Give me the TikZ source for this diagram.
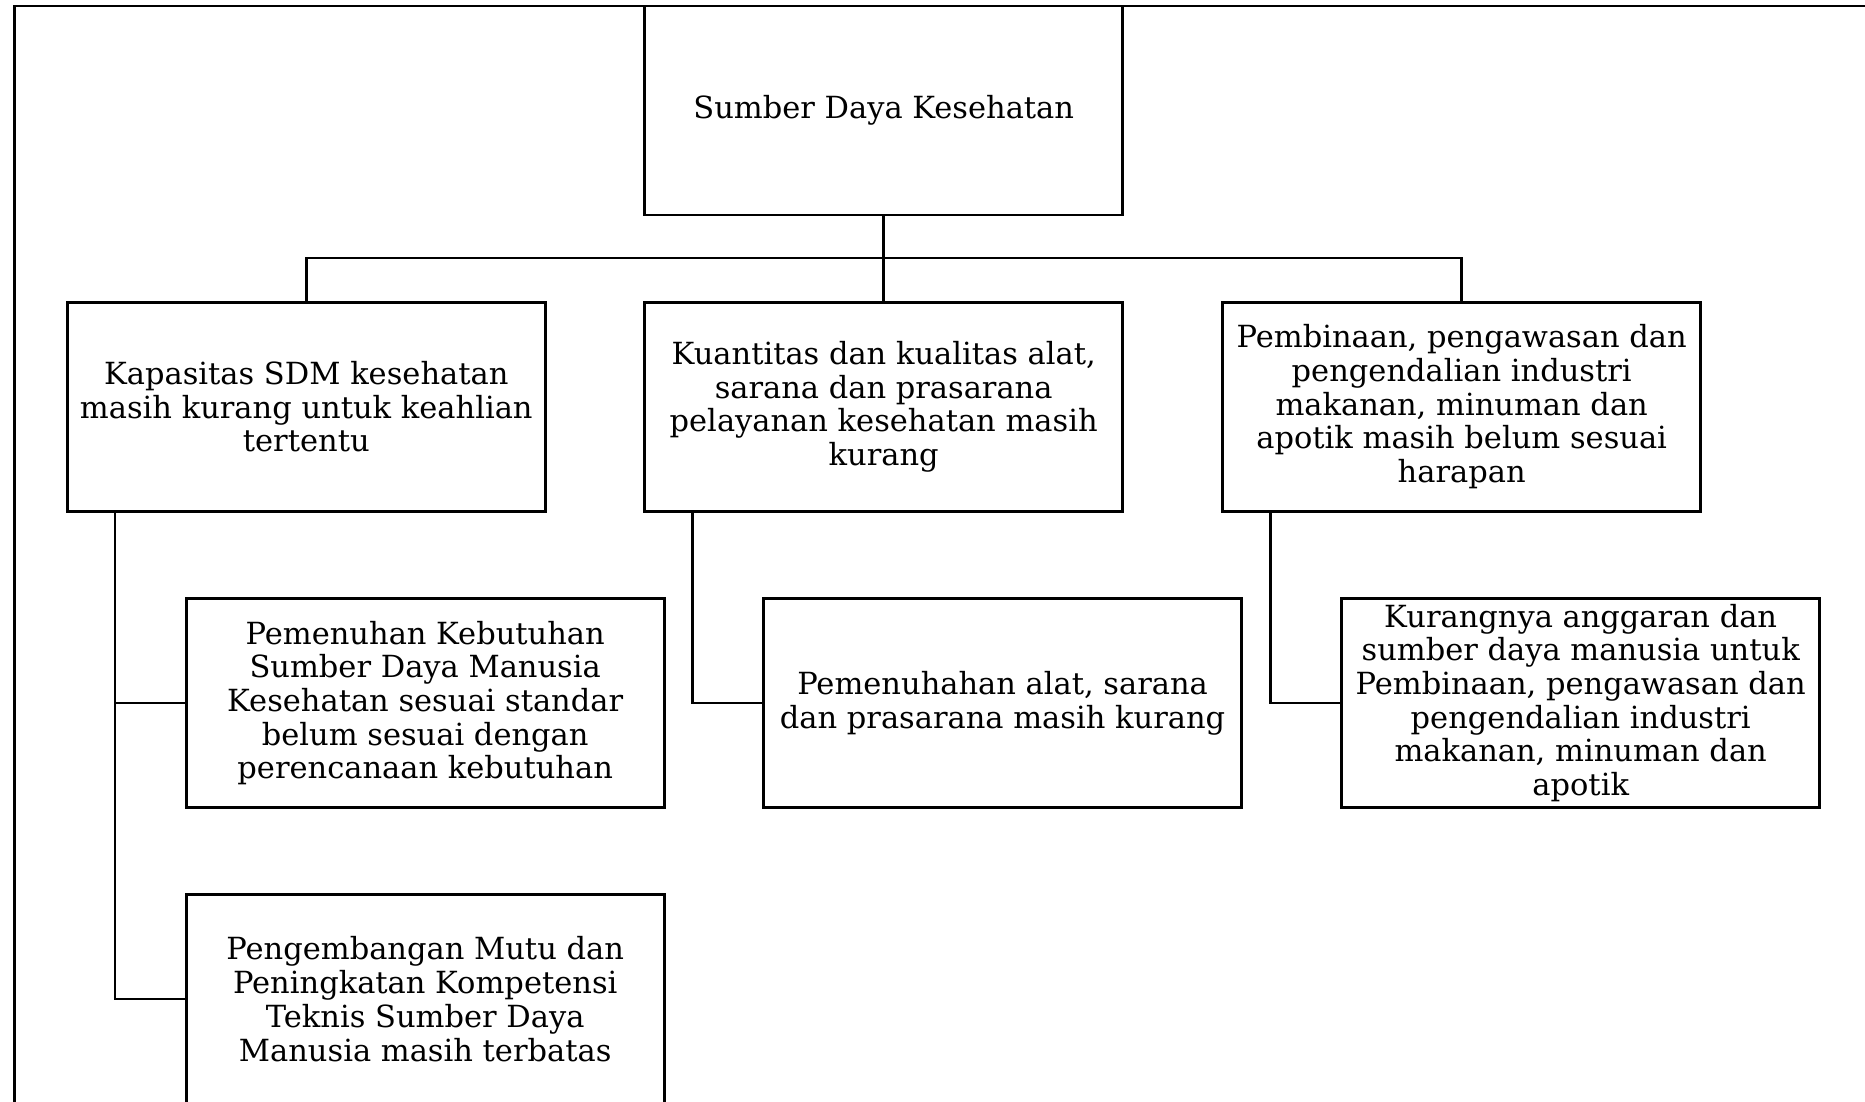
\documentclass[tikz,border=0pt]{standalone}
\usepackage{fontspec}
\setmainfont{DejaVu Serif}
\begin{document}
\begin{tikzpicture}[x=1pt,y=-1pt,
  box/.style={draw,line width=2.6pt,minimum width=478pt,minimum height=209pt,
    inner sep=0pt,outer sep=0pt,align=center,
    font=\fontsize{30.5}{33.7}\selectfont},
  link/.style={line width=2.6pt}]
\useasboundingbox (0,0) rectangle (1865,1101);
\clip (0,0) rectangle (1865,1101);
\fill[white] (0,0) rectangle (1865,1101);
% outer frame, running past the right and bottom edges
\draw[line width=2.8pt] (14.3,6) rectangle (1900,1150);

\node[box] (root) at (883.7,110.6) {Sumber Daya Kesehatan};

\node[box] (a) at (306.3,406.7) {Kapasitas SDM kesehatan\\masih kurang untuk keahlian\\tertentu};
\node[box] (b) at (883.7,406.7) {Kuantitas dan kualitas alat,\\sarana dan prasarana\\pelayanan kesehatan masih\\kurang};
\node[box] (c) at (1461.7,406.7) {Pembinaan, pengawasan dan\\pengendalian industri\\makanan, minuman dan\\apotik masih belum sesuai\\harapan};

\node[box] (a1) at (425.2,703.0) {Pemenuhan Kebutuhan\\Sumber Daya Manusia\\Kesehatan sesuai standar\\belum sesuai dengan\\perencanaan kebutuhan};
\node[box] (a2) at (425.2,999.1) {Pengembangan Mutu dan\\Peningkatan Kompetensi\\Teknis Sumber Daya\\Manusia masih terbatas};
\node[box] (b1) at (1002.6,703.0) {Pemenuhahan alat, sarana\\dan prasarana masih kurang};
\node[box] (c1) at (1580.7,703.0) {Kurangnya anggaran dan\\sumber daya manusia untuk\\Pembinaan, pengawasan dan\\pengendalian industri\\makanan, minuman dan\\apotik};

% tree connectors
\coordinate (bus) at (883.7,258.1);
\draw[link] (root.south) -- (bus);
\draw[link] (bus) -| (a.north);
\draw[link] (bus) -| (c.north);
\draw[link] (bus) -- (b.north);

\draw[link] ([xshift=47.6pt]a.south west) |- (a1.west);
\draw[link] ([xshift=47.6pt]a.south west) |- (a2.west);
\draw[link] ([xshift=47.6pt]b.south west) |- (b1.west);
\draw[link] ([xshift=47.6pt]c.south west) |- (c1.west);
\end{tikzpicture}
\end{document}
